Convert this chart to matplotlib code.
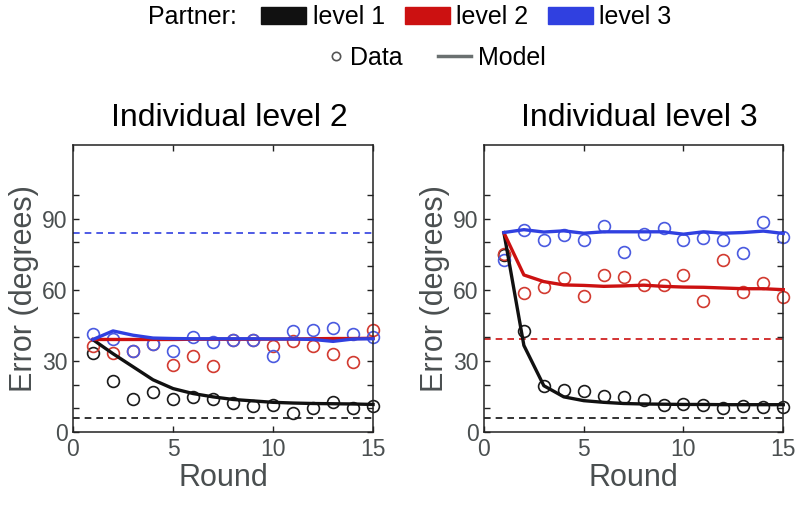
import numpy as np
import matplotlib
matplotlib.use("Agg")
import matplotlib.pyplot as plt
from matplotlib.patches import Patch
from matplotlib.lines import Line2D
from matplotlib.ticker import MultipleLocator, FixedLocator

plt.rcParams['font.family'] = ['Liberation Sans', 'DejaVu Sans']

rounds = np.arange(1, 16)

# partner baselines (dashed)
base_l1 = 6
base_l2 = 39
base_l3 = 84

# Individual level 2 panel
ind2_data_l1 = [33.2, 21.6, 14.1, 16.7, 14.1, 14.6, 14.1, 12.4, 10.9, 11.3, 8.2, 9.9, 12.7, 10.3, 10.9]
ind2_data_l2 = [36.2, 33.2, 34.1, 37.2, 28.3, 32.0, 27.7, 38.6, 38.6, 36.2, 38.2, 36.2, 32.7, 29.4, 43.1]
ind2_data_l3 = [41.4, 39.0, 34.1, 37.2, 34.1, 39.9, 37.8, 38.6, 38.6, 32.0, 42.6, 43.1, 44.0, 41.4, 39.9]
ind2_model_l1 = [38.9, 33.0, 27.5, 22.0, 18.3, 16.2, 14.8, 13.7, 13.1, 12.5, 12.2, 12.0, 11.9, 11.8, 11.6]
ind2_model_l2 = [39.0, 39.0, 39.0, 39.0, 39.0, 39.1, 39.1, 39.1, 39.1, 39.2, 39.2, 39.3, 39.4, 39.4, 39.5]
ind2_model_l3 = [39.0, 42.6, 40.8, 39.6, 39.4, 39.3, 39.3, 39.3, 39.3, 39.2, 39.2, 39.0, 38.2, 39.2, 39.3]

# Individual level 3 panel
ind3_data_l1 = [74.7, 42.6, 19.2, 17.9, 17.4, 15.3, 14.7, 13.4, 11.5, 12.0, 11.5, 10.0, 10.9, 10.4, 10.6]
ind3_data_l2 = [75.1, 58.8, 61.2, 64.8, 57.4, 66.3, 65.3, 62.1, 62.1, 66.3, 55.3, 72.7, 59.1, 62.7, 57.0]
ind3_data_l3 = [72.3, 85.3, 81.0, 82.9, 80.8, 86.7, 75.8, 83.4, 86.0, 80.8, 81.6, 80.8, 75.4, 88.5, 82.4]
ind3_model_l1 = [84.0, 36.5, 19.5, 14.8, 13.2, 12.5, 12.0, 11.8, 11.7, 11.6, 11.6, 11.5, 11.5, 11.5, 11.5]
ind3_model_l2 = [84.0, 66.2, 63.4, 62.0, 61.8, 61.4, 61.6, 61.9, 61.4, 61.1, 61.0, 60.7, 60.4, 60.4, 60.0]
ind3_model_l3 = [84.1, 85.3, 84.3, 84.8, 83.8, 84.4, 84.4, 84.4, 84.4, 83.4, 84.4, 83.8, 84.1, 84.7, 83.7]

titles = ['Individual level 2', 'Individual level 3']
colors = ['#111111', '#cc1111', '#3040e0']
data_colors = ['#1a1a1a', '#d23a30', '#4a5ae0']
tick_col = '#4a4f50'

fig = plt.figure(figsize=(7.96, 5.07), dpi=100)
ax1 = fig.add_axes([0.0917, 0.148, 0.377, 0.566])
ax2 = fig.add_axes([0.608, 0.148, 0.376, 0.566])

panels = [
    (ax1, [ind2_data_l1, ind2_data_l2, ind2_data_l3], [ind2_model_l1, ind2_model_l2, ind2_model_l3], [base_l1, base_l3]),
    (ax2, [ind3_data_l1, ind3_data_l2, ind3_data_l3], [ind3_model_l1, ind3_model_l2, ind3_model_l3], [base_l1, base_l2]),
]

for i, (ax, data, model, bases) in enumerate(panels):
    for b in bases:
        c = colors[[base_l1, base_l2, base_l3].index(b)]
        ax.axhline(b, color=c, ls=(0, (4, 3)), lw=1.2, zorder=1)
    for k in range(3):
        ax.plot(rounds, data[k], 'o', mfc='none', mec=data_colors[k], mew=1.2, ms=8.5,
                zorder=2, clip_on=False)
    for k in range(3):
        ax.plot(rounds, model[k], '-', color=colors[k], lw=2.4, zorder=3, clip_on=False)
    ax.set_xlim(0, 15)
    ax.set_ylim(0, 121)
    ax.xaxis.set_major_locator(MultipleLocator(5))
    ax.yaxis.set_major_locator(FixedLocator([0, 30, 60, 90]))
    ax.yaxis.set_minor_locator(FixedLocator([10, 20, 40, 50, 70, 80, 100]))
    ax.tick_params(which='both', direction='in', top=True, right=True, length=4, width=1,
                   color='#222222', labelsize=16.5, labelcolor=tick_col, pad=4)
    for s in ax.spines.values():
        s.set_color('#222222')
        s.set_linewidth(1.1)
    ax.set_title(titles[i], fontsize=23, pad=14, x=0.52)
    ax.set_xlabel('Round', fontsize=22, color=tick_col, labelpad=2)
    ax.set_ylabel('Error (degrees)', fontsize=22, color=tick_col, labelpad=2)

# legend rows
fig.text(0.298, 0.966, 'Partner:', fontsize=18, ha='right', va='center')
partner_handles = [Patch(facecolor=c, edgecolor=c) for c in colors]
fig.legend(partner_handles, ['level 1', 'level 2', 'level 3'], ncol=3, loc='center',
           bbox_to_anchor=(0.586, 0.966), frameon=False, fontsize=18,
           handlelength=1.8, handleheight=0.65, handletextpad=0.25, columnspacing=0.8,
           borderpad=0, borderaxespad=0)
fig.legend([Line2D([], [], ls='none', marker='o', mfc='none', mec='#555555', ms=6, mew=1.2)], ['Data'],
           loc='center', bbox_to_anchor=(0.460, 0.886), frameon=False, fontsize=18,
           handlelength=0.5, handletextpad=0.3, borderpad=0, borderaxespad=0)
fig.legend([Line2D([], [], color='#6a7070', lw=2.5)], ['Model'],
           loc='center', bbox_to_anchor=(0.618, 0.886), frameon=False, fontsize=18,
           handlelength=1.3, handletextpad=0.3, borderpad=0, borderaxespad=0)

fig.savefig('out.png', dpi=100)
